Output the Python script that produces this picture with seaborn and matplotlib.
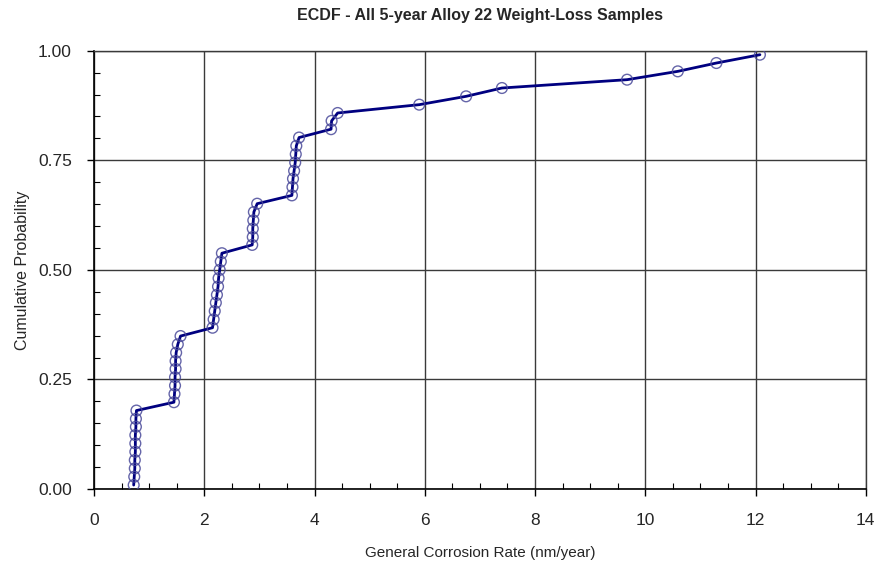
import matplotlib
matplotlib.use("Agg")
import matplotlib.pyplot as plt
from matplotlib.ticker import MultipleLocator, FormatStrFormatter
import seaborn as sns
import pandas as pd

# Sorted general corrosion rates (nm/year) of the 5-year Alloy 22 weight-loss samples
corrosion_rate = [
    0.72, 0.73, 0.74, 0.74, 0.75, 0.75, 0.75, 0.76, 0.76, 0.77,
    1.45, 1.46, 1.47, 1.47, 1.48, 1.48, 1.49, 1.52, 1.57,
    2.15, 2.17, 2.19, 2.21, 2.23, 2.25, 2.26, 2.28, 2.30, 2.32,
    2.87, 2.88, 2.88, 2.89, 2.90, 2.96,
    3.59, 3.60, 3.61, 3.63, 3.65, 3.66, 3.67, 3.72,
    4.30, 4.31, 4.42,
    5.90, 6.75, 7.40, 9.67, 10.59, 11.29, 12.08,
]

# Plotting positions (cumulative probability) for each sorted sample
cum_prob = [
    0.009, 0.028, 0.047, 0.066, 0.085, 0.104, 0.123, 0.142, 0.160, 0.179,
    0.198, 0.217, 0.236, 0.255, 0.274, 0.292, 0.311, 0.330, 0.349,
    0.368, 0.387, 0.406, 0.425, 0.443, 0.462, 0.481, 0.500, 0.519, 0.538,
    0.557, 0.575, 0.594, 0.613, 0.632, 0.651,
    0.670, 0.689, 0.708, 0.726, 0.745, 0.764, 0.783, 0.802,
    0.821, 0.840, 0.858,
    0.877, 0.896, 0.915, 0.934, 0.953, 0.972, 0.991,
]

x_ticks = [0, 2, 4, 6, 8, 10, 12, 14]
y_ticks = [0.00, 0.25, 0.50, 0.75, 1.00]

df = pd.DataFrame({"rate": corrosion_rate, "prob": cum_prob})

sns.set_style("white")
plt.rcParams["font.family"] = ["Liberation Sans", "DejaVu Sans"]

fig = plt.figure(figsize=(8.81, 5.64), dpi=100)
ax = fig.add_axes([0.1067, 0.133, 0.876, 0.777])

navy = "#000080"
sns.lineplot(data=df, x="rate", y="prob", sort=False, estimator=None,
             color=navy, linewidth=2.0, ax=ax, zorder=3)
sns.scatterplot(data=df, x="rate", y="prob", ax=ax, s=60,
                facecolors="none", edgecolor="#4a4a9a", linewidth=1.0,
                alpha=0.85, zorder=4)

ax.set_xlim(0, 14)
ax.set_ylim(0, 1)
ax.set_xticks(x_ticks)
ax.set_yticks(y_ticks)
ax.yaxis.set_major_formatter(FormatStrFormatter("%.2f"))
ax.xaxis.set_minor_locator(MultipleLocator(0.5))
ax.yaxis.set_minor_locator(MultipleLocator(0.05))

ax.grid(True, which="major", color="#3a3a3a", linewidth=1.0)
ax.set_axisbelow(True)

ax.tick_params(axis="x", which="major", direction="out", length=5,
               width=1, labelsize=12.5, color="black", pad=12)
ax.tick_params(axis="y", which="major", direction="out", length=5,
               width=1, labelsize=12.5, color="black", pad=11)
ax.tick_params(axis="both", which="minor", direction="in", length=4,
               width=0.8, color="black")
ax.tick_params(left=True, bottom=True, which="both")

for side in ["left", "bottom"]:
    ax.spines[side].set_color("black")
    ax.spines[side].set_linewidth(1.2)
for side in ["top", "right"]:
    ax.spines[side].set_color("#3a3a3a")
    ax.spines[side].set_linewidth(1.0)

ax.set_xlabel("General Corrosion Rate (nm/year)", fontsize=11, labelpad=13)
ax.set_ylabel("Cumulative Probability", fontsize=11.5, labelpad=6)
ax.set_title("ECDF - All 5-year Alloy 22 Weight-Loss Samples",
             fontsize=11.5, fontweight="bold", pad=22)

fig.savefig("out.png", dpi=100)
